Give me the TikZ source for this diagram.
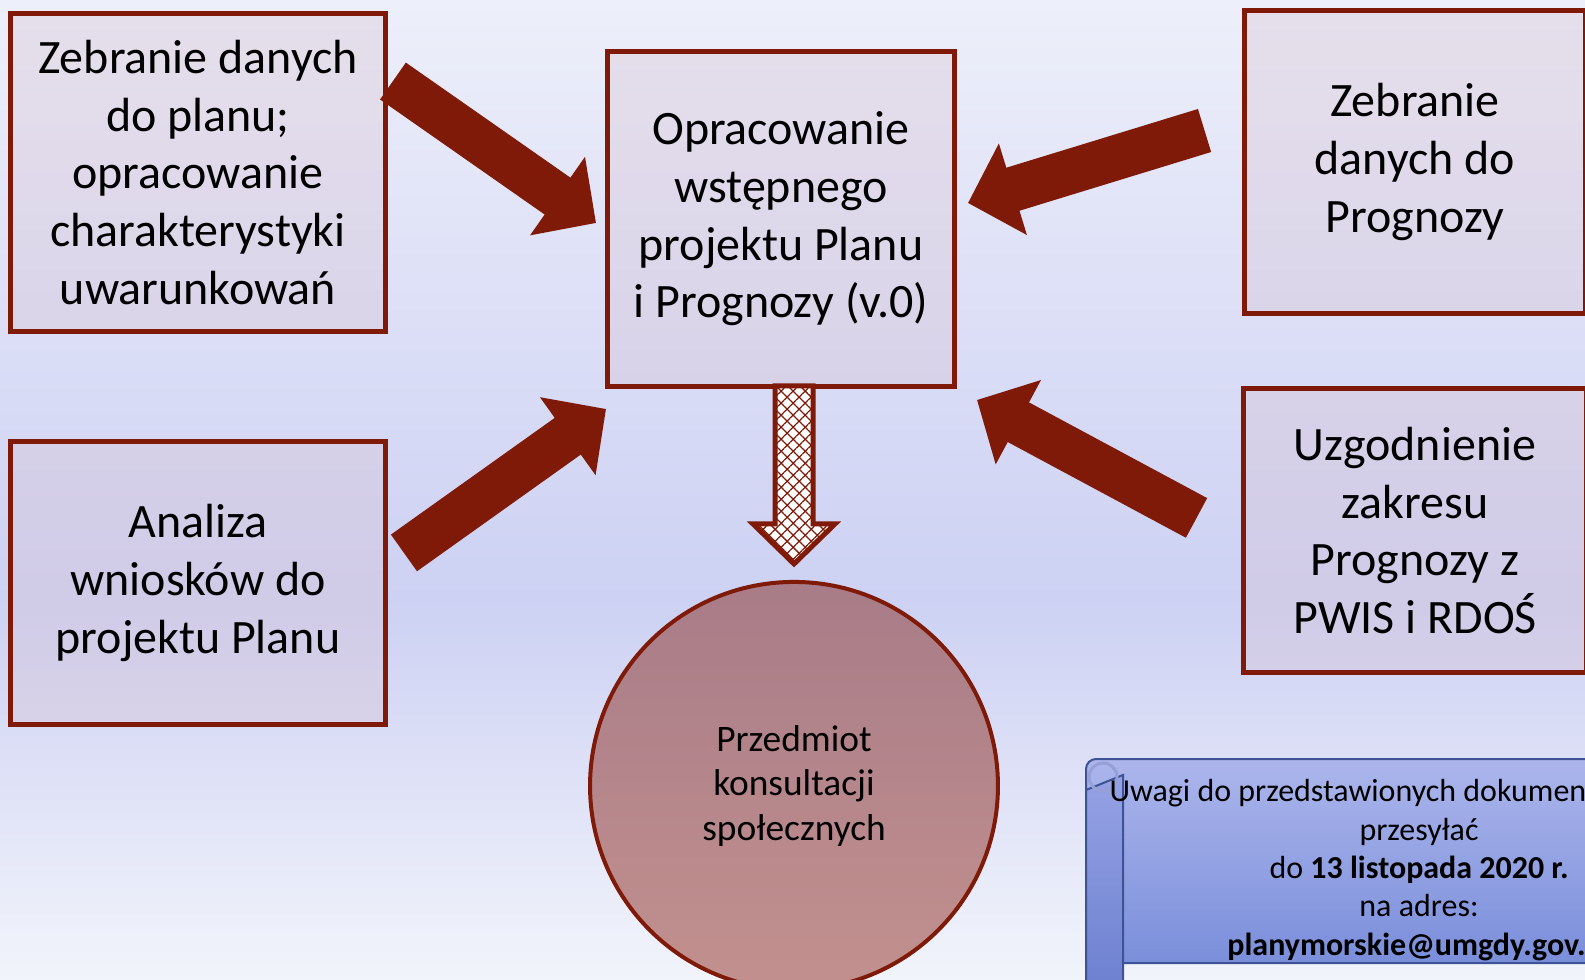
\documentclass[tikz,border=0pt]{standalone}
\usepackage{fontspec}
\setmainfont{Carlito}
\usetikzlibrary{positioning, calc, arrows.meta, patterns.meta}
\definecolor{bordo}{RGB}{128,26,8}
\definecolor{roz}{RGB}{215,190,205}
\definecolor{tlogora}{RGB}{237,239,250}
\definecolor{tlosrodek}{RGB}{205,209,243}
\definecolor{tlodol}{RGB}{242,244,251}
\definecolor{zwojgora}{RGB}{172,182,236}
\definecolor{zwojdol}{RGB}{122,142,218}
\definecolor{zwojbrzeg}{RGB}{62,82,150}
\tikzstyle{etap} = [rectangle, draw=bordo, line width=0.1cm, fill=roz, fill opacity=0.3, text opacity=1, align=center, font=\fontsize{27.3}{32.8}\selectfont]
\tikzstyle{kolo} = [circle, draw=bordo, line width=0.08cm, top color={rgb,255:red,168;green,124;blue,136}, bottom color={rgb,255:red,194;green,144;blue,142}, align=center, font=\fontsize{21.3}{25.3}\selectfont]
\tikzstyle{strzalka} = [-{Triangle[length=0.94cm, width=1.86cm]}, line width=0.9cm, draw=bordo]
\tikzstyle{kratka} = [draw=bordo, line width=0.1cm, line join=miter, preaction={fill=white}, pattern={Lines[angle=45, distance=0.17cm, line width=0.025cm]}, pattern color=bordo, postaction={pattern={Lines[angle=-45, distance=0.17cm, line width=0.025cm]}, pattern color=bordo}]
\tikzstyle{uwaga} = [align=center, font=\fontsize{18.2}{21.8}\selectfont]

\begin{document}
\begin{tikzpicture}[x=0.02cm, y=-0.02cm]
	\useasboundingbox (0,0) rectangle (1585,980);
	\clip (0,0) rectangle (1585,980);
	\shade[top color=tlogora, bottom color=tlosrodek] (0,0) rectangle (1585,600);
	\shade[top color=tlosrodek, bottom color=tlodol] (0,599) rectangle (1585,980);

	\node (dane) [etap, minimum width=7.5cm, minimum height=6.36cm] at (198,172.5) {Zebranie danych\\do planu;\\opracowanie\\charakterystyki\\uwarunkowań};
	\node (analiza) [etap, below=2.1cm of dane, minimum width=7.5cm, minimum height=5.66cm] {Analiza\\wniosków do\\projektu Planu};
	\node (plan) [etap, minimum width=6.94cm, minimum height=6.7cm] at (781,219) {Opracowanie\\wstępnego\\projektu Planu\\i Prognozy (v.0)};
	\node (prognoza) [etap, minimum width=6.82cm, minimum height=6.06cm] at (1415,162) {Zebranie\\danych do\\Prognozy};
	\node (uzgodnienie) [etap, below=1.4cm of prognoza, minimum width=6.86cm, minimum height=5.68cm] {Uzgodnienie\\zakresu\\Prognozy z\\PWIS i RDOŚ};
	\node (konsult) [kolo, minimum size=8.16cm, below=3.82cm of plan, xshift=0.26cm] {Przedmiot\\konsultacji\\społecznych};

	\draw [strzalka] ($(dane.north east)+(5,70)$) -- ($(plan.west)+(-9,4)$);
	\draw [strzalka] ($(analiza.east)+(16,-30)$) -- ($(plan.south west)+(1,20)$);
	\draw [strzalka] ($(prognoza.west)+(-37.5,-31.5)$) -- ($(plan.east)+(11,-16)$);
	\draw [strzalka] ($(uzgodnienie.west)+(-44.5,-12.5)$) -- ($(plan.south east)+(20,11)$);

	\coordinate (dgrot) at ($(konsult.north)+(0,-16)$);
	\draw [kratka] ($(plan.south -| dgrot)+(-19,-3)$) -- ++(0,138) -- ++(-22,0) -- (dgrot) -- ++(41,-40) -- ++(-22,0) -- ++(0,-138) -- cycle;

	% zwoj z uwagami
	\shade[top color=zwojgora, bottom color=zwojdol, draw=zwojbrzeg, line width=0.04cm, rounded corners=0.2cm] (1086,759) rectangle (1620,963);
	\shade[top color={rgb,255:red,150;green,162;blue,228}, bottom color={rgb,255:red,108;green,128;blue,208}, draw=zwojbrzeg, line width=0.04cm] (1086,790) -- (1086,990) -- (1123,990) -- (1123,775) -- cycle;
	\draw[draw={rgb,255:red,150;green,160;blue,215}, line width=0.06cm] (1103,777) circle (14);
	\node (uwagi) [uwaga] at (1419,870) {Uwagi do przedstawionych dokumentów\hspace*{1.85cm}\\przesyłać\\do \textbf{13 listopada 2020 r.}\\na adres:\\\textbf{planymorskie@umgdy.gov.pl}};
\end{tikzpicture}
\end{document}
